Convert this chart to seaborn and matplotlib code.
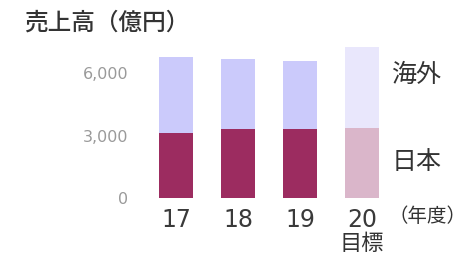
import seaborn as sns
import matplotlib.pyplot as plt
import pandas as pd

# fiscal years and sales (100 million yen)
years = ["17", "18", "19", "20"]
japan = [3150, 3320, 3320, 3380]
overseas = [3620, 3350, 3250, 3880]
y_ticks = [0, 3000, 6000]

japan_colors = ["#9c2c60", "#9c2c60", "#9c2c60", "#dab6ca"]
overseas_colors = ["#cbcafb", "#cbcafb", "#cbcafb", "#e9e7fc"]

df = pd.DataFrame({"year": years, "japan": japan, "overseas": overseas})
df["total"] = df["japan"] + df["overseas"]

sns.set_theme(style="white")
plt.rcParams["font.family"] = ["Noto Sans CJK JP", "DejaVu Sans"]

fig = plt.figure(figsize=(4.67, 2.56), dpi=100)
ax = fig.add_axes([130 / 467, 58 / 256, 260 / 467, 158 / 256])

# stacked bars: total first, then japan on top of it
sns.barplot(data=df, x="year", y="total", hue="year", palette=overseas_colors,
            width=0.55, legend=False, ax=ax, saturation=1, linewidth=0)
sns.barplot(data=df, x="year", y="japan", hue="year", palette=japan_colors,
            width=0.55, legend=False, ax=ax, saturation=1, linewidth=0)

ax.set_xlim((130 - 176) / 62, (390 - 176) / 62)
ax.set_ylim(0, 7600)
ax.set_yticks(y_ticks)
ax.set_yticklabels([f"{v:,}" for v in y_ticks], color="#9a9a9a", fontsize=11.5,
                   family=["DejaVu Sans"])
ax.tick_params(axis="y", length=0, pad=1)
ax.tick_params(axis="x", length=0, pad=7)
ax.set_xticks(range(len(years)))
ax.set_xticklabels(years, fontsize=17, color="#3a3a3a", family=["DejaVu Sans"])
ax.set_xlabel("")
ax.set_ylabel("")
sns.despine(ax=ax, left=True, bottom=True)

fig.text(24 / 467, 1 - 23 / 256, "売上高（億円）", fontsize=17, color="#333333",
         va="center", ha="left", weight="medium")
fig.text(362 / 467, 1 - 244 / 256, "目標", fontsize=16, color="#333333",
         va="center", ha="center")
fig.text(388 / 467, 1 - 216 / 256, "（年度）", fontsize=14, color="#333333",
         va="center", ha="left")
fig.text(391 / 467, 1 - 75 / 256, "海外", fontsize=18, color="#333333",
         va="center", ha="left")
fig.text(392 / 467, 1 - 162 / 256, "日本", fontsize=18, color="#333333",
         va="center", ha="left")

fig.savefig("out.png", dpi=100)
